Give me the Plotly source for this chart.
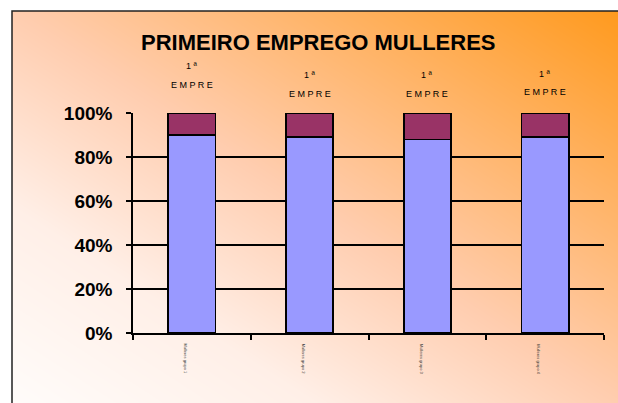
import plotly.graph_objects as go

categories = ["Mulleres grupo 1", "Mulleres grupo 2", "Mulleres grupo 3", "Mulleres grupo 4"]
first_job = [90, 89, 88, 89]
other = [10, 11, 12, 11]
top_label_1 = "1 ª"
top_label_2 = "E M P R E"
label_rise = [16, 12, 12, 12.5]
y_ticks = [0, 20, 40, 60, 80, 100]
y_tick_labels = ["0%", "20%", "40%", "60%", "80%", "100%"]

W, H = 618, 403
fig = go.Figure()

# background gradient (on first subplot, drawn beneath)
fig.add_trace(go.Heatmap(
    z=[[0.0, 0.5], [0.5, 1.0]], x=[0, 1], y=[0, 1],
    zsmooth="best", showscale=False, hoverinfo="skip",
    colorscale=[[0, "#FFFCFA"], [0.25, "#FFEFE7"], [0.5, "#FFCDAF"], [1, "#FF9A1E"]],
    xaxis="x", yaxis="y"))

line = dict(color="black", width=1.8)
fig.add_trace(go.Bar(x=categories, y=first_job, marker=dict(color="#9999FF", line=line),
                     xaxis="x2", yaxis="y2", name="1ª"))
fig.add_trace(go.Bar(x=categories, y=other, marker=dict(color="#993366", line=line),
                     xaxis="x2", yaxis="y2", name="outra"))

x0, x1 = 133 / W, 604 / W
y0, y1 = (H - 333) / H, (H - 113) / H

fig.update_layout(
    width=W, height=H, margin=dict(l=0, r=0, t=0, b=0, pad=0, autoexpand=False),
    paper_bgcolor="white", plot_bgcolor="rgba(0,0,0,0)",
    barmode="stack", bargap=0.6, showlegend=False,
    xaxis=dict(domain=[12 / W, 1], range=[0, 1], visible=False, fixedrange=True),
    yaxis=dict(domain=[0, 1 - 11 / H], range=[0, 1], visible=False, fixedrange=True),
    xaxis2=dict(domain=[x0, x1], anchor="y2", showline=True, linecolor="black", linewidth=1.5,
                ticks="outside", tickson="boundaries", ticklen=5, tickcolor="black", tickwidth=1.5,
                showgrid=False, showticklabels=False, automargin=False),
    yaxis2=dict(domain=[y0, y1], anchor="x2", range=[0, 100], tickvals=y_ticks, ticktext=y_tick_labels,
                showline=True, linecolor="black", linewidth=1.5, ticks="outside", ticklen=5,
                tickcolor="black", tickwidth=1.5, showgrid=True, gridcolor="black", gridwidth=1.5,
                zeroline=False, ticklabelstandoff=10, automargin=False,
                tickfont=dict(family="Arial", size=19, color="black", weight="bold")),
    title=dict(text="<b>PRIMEIRO EMPREGO MULLERES</b>", x=0.515, xanchor="center",
               y=1 - 42 / H, yanchor="middle", automargin=False,
               font=dict(family="Arial", size=22, color="black")),
    shapes=[dict(type="rect", xref="paper", yref="paper", x0=12 / W, x1=1.05, y0=-0.05, y1=1 - 11 / H,
                 line=dict(color="#222222", width=1.5), fillcolor="rgba(0,0,0,0)")],
)


def to_paper(v):
    return y0 + v / 100 * (y1 - y0)


for c, r in zip(categories, label_rise):
    fig.add_annotation(x=c, y=to_paper(100 + r + 8.5), xref="x2", yref="paper", text=top_label_1,
                       showarrow=False, font=dict(family="Arial", size=9, color="black"))
    fig.add_annotation(x=c, y=to_paper(100 + r), xref="x2", yref="paper", text=top_label_2,
                       showarrow=False, font=dict(family="Arial", size=9, color="black"))
    fig.add_annotation(x=c, y=to_paper(-4), xref="x2", yref="paper", text=c, textangle=90,
                       xshift=-6, yanchor="top", showarrow=False,
                       font=dict(family="Arial", size=4, color="#333333"))

fig.write_html("out.html", config={"displayModeBar": False},
               post_script="document.body.style.margin='0';document.body.style.overflow='hidden';")
